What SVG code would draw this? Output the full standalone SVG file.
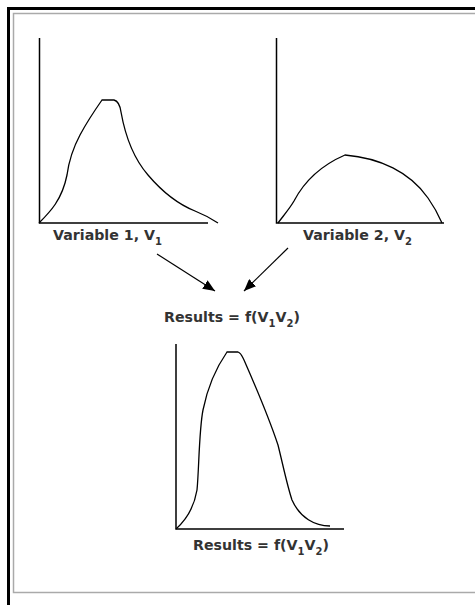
<svg xmlns="http://www.w3.org/2000/svg" width="475" height="605" viewBox="0 0 475 605">
<style>
.axis{fill:none;stroke:#000;stroke-width:1.5}
.curve{fill:none;stroke:#000;stroke-width:1.3}
.lbl{font-family:"DejaVu Sans",Verdana,sans-serif;font-weight:bold;font-size:14.2px;fill:#333}
.sub{font-size:10px}
.conn{stroke:#000;stroke-width:1.2;fill:none}
</style>
<defs>
<marker id="ah" viewBox="0 0 12 10" refX="12" refY="5" markerWidth="12" markerHeight="10" markerUnits="userSpaceOnUse" orient="auto">
<path d="M0,0 L12,5 L0,10 Z" fill="#000"/>
</marker>
</defs>
<rect width="475" height="605" fill="#fff"/>
<rect x="8.5" y="8.5" width="480" height="610" fill="none" stroke="#000" stroke-width="3"/>
<rect x="13.5" y="13.5" width="475" height="579" fill="none" stroke="#aaa" stroke-width="1.5"/>
<g id="chart1">
<path class="axis" d="M39.5,38 V223 H208"/>
<path class="curve" d="M39,223 C50,212 62,200 67,175 C69,160 72,150 80,135 C88,120 95,110 102,100 L114,100 C118,101 120,105 121,112 C126,140 135,160 148,175 C165,195 180,205 195,211 C205,215 212,219 218,223"/>
<text class="lbl" x="53" y="240">Variable 1, V<tspan class="sub" dy="5">1</tspan></text>
</g>
<g id="chart2">
<path class="axis" d="M276.5,38 V223 H444"/>
<path class="curve" d="M278,223 C284,215 290,208 294,201 C305,180 322,165 345,155 C380,158 410,172 428,198 C435,208 439,216 442,223"/>
<text class="lbl" x="303" y="240">Variable 2, V<tspan class="sub" dy="5">2</tspan></text>
</g>
<g id="results">
<text class="lbl" x="164" y="322">Results = f(V<tspan class="sub" dy="5">1</tspan><tspan dy="-5">V</tspan><tspan class="sub" dy="5">2</tspan><tspan dy="-5">)</tspan></text>
</g>
<g id="chart3">
<path class="axis" d="M176,344 V529 H344"/>
<path class="curve" d="M176,529 C186,520 194,508 197,490 C199,470 199,430 203,410 C208,385 218,365 227,352 L238,352 C241,353 242,356 244,360 C255,385 268,415 278,445 C283,465 287,485 292,500 C300,518 315,526 330,526"/>
<text class="lbl" x="193" y="550">Results = f(V<tspan class="sub" dy="5">1</tspan><tspan dy="-5">V</tspan><tspan class="sub" dy="5">2</tspan><tspan dy="-5">)</tspan></text>
</g>
<g id="connectors">
<line class="conn" x1="157" y1="254" x2="215" y2="291" marker-end="url(#ah)"/>
<line class="conn" x1="288" y1="248" x2="244" y2="291" marker-end="url(#ah)"/>
</g>
</svg>
